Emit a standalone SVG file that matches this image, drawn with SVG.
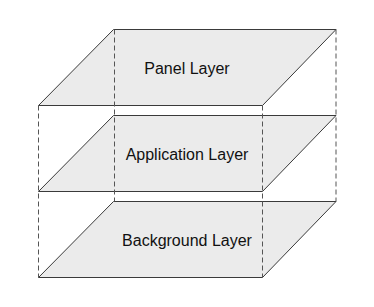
<svg xmlns="http://www.w3.org/2000/svg" width="374" height="307" viewBox="0 0 374 307">
<style>
.layer{fill:#ebebeb;stroke:#3a3a3a;stroke-width:1}
.guide{stroke:#555;stroke-width:1;stroke-dasharray:5 3;fill:none}
.lbl{font-family:"Liberation Sans",Arial,sans-serif;font-size:16px;fill:#111;text-anchor:middle}
</style>
<rect width="374" height="307" fill="#fff"/>
<g id="bottom-layer">
<polygon class="layer" points="38.5,277.5 113.5,201.5 336,201.5 262.5,277.5"/>
<text class="lbl" x="187" y="246">Background Layer</text>
</g>
<g id="application-layer">
<polygon class="layer" points="38.5,191.5 113.5,115.5 336,115.5 262.5,191.5"/>
<text class="lbl" x="187" y="160">Application Layer</text>
</g>
<g id="panel-layer">
<polygon class="layer" points="38.5,105.5 113.5,29.5 336,29.5 262.5,105.5"/>
<text class="lbl" x="187" y="74">Panel Layer</text>
</g>
<g id="connectors">
<line class="guide" x1="38.5" y1="105.5" x2="38.5" y2="277.5"/>
<line class="guide" x1="114.5" y1="29.5" x2="114.5" y2="201.5"/>
<line class="guide" x1="262.5" y1="105.5" x2="262.5" y2="277.5"/>
<line class="guide" x1="336" y1="29.5" x2="336" y2="201.5"/>
</g>
</svg>
